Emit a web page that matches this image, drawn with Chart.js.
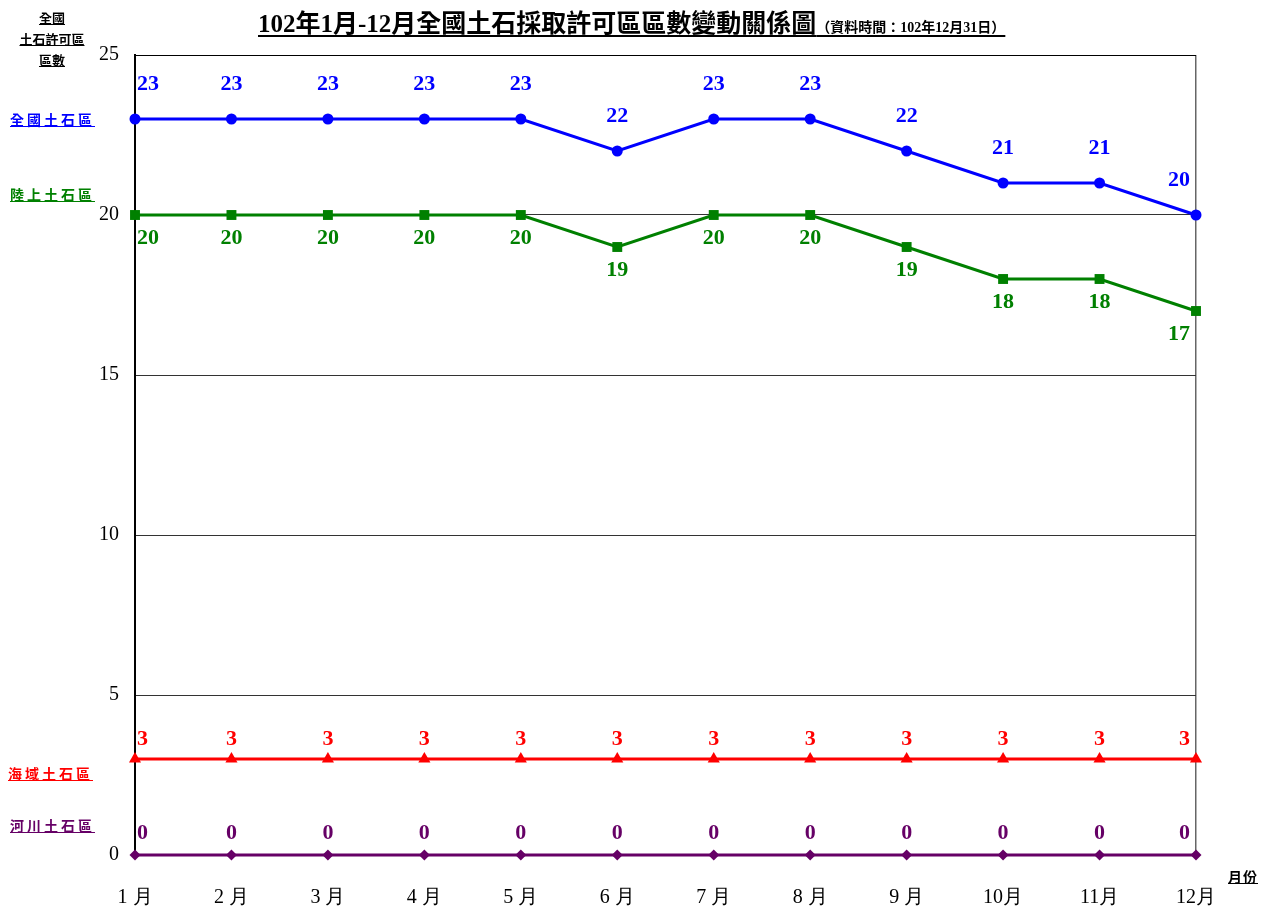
<!DOCTYPE html>
<html>
<head>
<meta charset="utf-8">
<script src="https://cdn.jsdelivr.net/npm/chart.js"></script>
<style>
  body { margin: 0; background: #fff; }
  #wrap { position: relative; width: 1269px; height: 909px; }
  #myChart { display: block; }
  .lbl { position: absolute; font-family: "Liberation Serif", "Noto Sans CJK TC", serif; font-weight: bold; text-decoration: underline; white-space: nowrap; line-height: 1; }
  .lado { font-size: 14px; letter-spacing: 3px; }
</style>
</head>
<body>
<div id="wrap">
  <canvas id="myChart" width="1269" height="909"></canvas>
  <div class="lbl" id="titulo" style="left:258px; top:11px; font-size:25px; text-underline-offset:3px;">102年1月-12月全國土石採取許可區區數變動關係圖<span style="font-size:14px;">（資料時間：102年12月31日）</span></div>
  <div class="lbl" style="left:0; top:8px; width:104px; text-align:center; font-size:13px; line-height:21px; color:#000;">全國<br>土石許可區<br>區數</div>
  <div class="lbl lado" style="left:10px; top:114px; color:#0000ff;">全國土石區</div>
  <div class="lbl lado" style="left:10px; top:189px; color:#008000;">陸上土石區</div>
  <div class="lbl lado" style="left:8px; top:768px; color:#ff0000;">海域土石區</div>
  <div class="lbl lado" style="left:10px; top:820px; color:#660066;">河川土石區</div>
  <div class="lbl lado" style="left:1228px; top:871px; color:#000; letter-spacing:1px;">月份</div>
</div>
<script>
const ctx = document.getElementById('myChart');

// Datos del gráfico
const meses = ['1 月', '2 月', '3 月', '4 月', '5 月', '6 月', '7 月', '8 月', '9 月', '10月', '11月', '12月'];
const todoPais = [23, 23, 23, 23, 23, 22, 23, 23, 22, 21, 21, 20]; // 全國土石區
const tierra = [20, 20, 20, 20, 20, 19, 20, 20, 19, 18, 18, 17];   // 陸上土石區
const mar = [3, 3, 3, 3, 3, 3, 3, 3, 3, 3, 3, 3];                  // 海域土石區
const rio = [0, 0, 0, 0, 0, 0, 0, 0, 0, 0, 0, 0];                  // 河川土石區

// Dibuja el número de cada punto
const etiquetasPlugin = {
    id: 'etiquetas',
    afterDatasetsDraw(chart) {
        const c = chart.ctx;
        const area = chart.chartArea;
        chart.data.datasets.forEach((ds, i) => {
            const meta = chart.getDatasetMeta(i);
            c.save();
            c.font = 'bold 22px "Liberation Serif"';
            c.fillStyle = ds.borderColor;
            c.textAlign = 'center';
            c.textBaseline = 'middle';
            meta.data.forEach((pt, j) => {
                const txt = String(ds.data[j]);
                const w = c.measureText(txt).width;
                const x = Math.min(Math.max(pt.x, area.left + w / 2 + 2), area.right - w / 2 - 6);
                c.fillText(txt, x, pt.y + ds.desplazamiento);
            });
            c.restore();
        });
    }
};

const fuenteEje = { family: '"Liberation Serif"', size: 20 };

new Chart(ctx, {
    type: 'line',
    data: {
        labels: meses,
        datasets: [
            { label: '全國土石區', data: todoPais, borderColor: '#0000ff', backgroundColor: '#0000ff', pointStyle: 'circle', pointRadius: 5.5, desplazamiento: -35 },
            { label: '陸上土石區', data: tierra, borderColor: '#008000', backgroundColor: '#008000', pointStyle: 'rect', pointRadius: 7, desplazamiento: 23 },
            { label: '海域土石區', data: mar, borderColor: '#ff0000', backgroundColor: '#ff0000', pointStyle: 'triangle', pointRadius: 7, desplazamiento: -20 },
            { label: '河川土石區', data: rio, borderColor: '#660066', backgroundColor: '#660066', pointStyle: 'rectRot', pointRadius: 5.5, desplazamiento: -22 }
        ]
    },
    options: {
        responsive: false,
        animation: false,
        clip: false,
        elements: { line: { borderWidth: 3, tension: 0 }, point: { borderWidth: 0 } },
        layout: { padding: { top: 55, right: 73, left: 0, bottom: 0 } },
        plugins: { legend: { display: false }, tooltip: { enabled: false } },
        scales: {
            x: {
                offset: false,
                grid: {
                    drawTicks: false,
                    color: (c) => c.index === meses.length - 1 ? '#666' : 'transparent',
                    lineWidth: 1.5
                },
                border: { display: true, color: '#000', width: 2 },
                ticks: { autoSkip: false, maxRotation: 0, padding: 31, color: '#000', font: fuenteEje },
                afterFit: (s) => { s.height = 54; }
            },
            y: {
                min: 0,
                max: 25,
                grid: { drawTicks: false, color: (c) => c.index === 5 ? '#000' : '#333', lineWidth: 1 },
                border: { color: '#000', width: 2 },
                ticks: { stepSize: 5, padding: 16, color: '#000', font: fuenteEje },
                afterFit: (s) => { s.width = 135; }
            }
        }
    },
    plugins: [etiquetasPlugin]
});
</script>
</body>
</html>
